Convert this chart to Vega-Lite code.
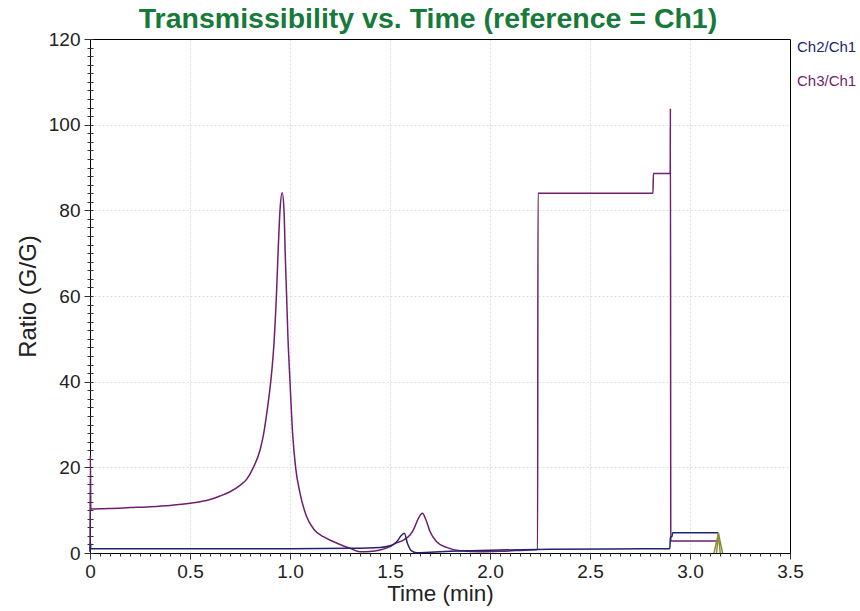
{
  "$schema": "https://vega.github.io/schema/vega-lite/v6.json",
  "autosize": {"type": "none"},
  "padding": {"left": 90, "top": 39, "right": 70, "bottom": 58},
  "width": 700,
  "height": 514,
  "background": "white",
  "config": {"font": "Liberation Sans", "view": {"stroke": null}},
  "title": {"text": "Transmissibility vs. Time (reference = Ch1)", "fontSize": 28.5, "fontWeight": "bold", "color": "#177a3a", "anchor": "middle", "offset": -3, "dx": -12},
  "datasets": {
    "main": [
      {"t": 0, "r": 0.5, "s": "Ch3/Ch1"},
      {"t": 0.002, "r": 22.8, "s": "Ch3/Ch1"},
      {"t": 0.004, "r": 10.3, "s": "Ch3/Ch1"},
      {"t": 0.1, "r": 10.4, "s": "Ch3/Ch1"},
      {"t": 0.2, "r": 10.6, "s": "Ch3/Ch1"},
      {"t": 0.3, "r": 10.8, "s": "Ch3/Ch1"},
      {"t": 0.4, "r": 11.1, "s": "Ch3/Ch1"},
      {"t": 0.5, "r": 11.6, "s": "Ch3/Ch1"},
      {"t": 0.6, "r": 12.5, "s": "Ch3/Ch1"},
      {"t": 0.65, "r": 13.3, "s": "Ch3/Ch1"},
      {"t": 0.7, "r": 14.3, "s": "Ch3/Ch1"},
      {"t": 0.75, "r": 15.8, "s": "Ch3/Ch1"},
      {"t": 0.783, "r": 17.2, "s": "Ch3/Ch1"},
      {"t": 0.817, "r": 20, "s": "Ch3/Ch1"},
      {"t": 0.85, "r": 24, "s": "Ch3/Ch1"},
      {"t": 0.867, "r": 27.5, "s": "Ch3/Ch1"},
      {"t": 0.885, "r": 33, "s": "Ch3/Ch1"},
      {"t": 0.9, "r": 38.5, "s": "Ch3/Ch1"},
      {"t": 0.91, "r": 43, "s": "Ch3/Ch1"},
      {"t": 0.92, "r": 49, "s": "Ch3/Ch1"},
      {"t": 0.932, "r": 60, "s": "Ch3/Ch1"},
      {"t": 0.942, "r": 72, "s": "Ch3/Ch1"},
      {"t": 0.95, "r": 80, "s": "Ch3/Ch1"},
      {"t": 0.961, "r": 84.1, "s": "Ch3/Ch1"},
      {"t": 0.97, "r": 80, "s": "Ch3/Ch1"},
      {"t": 0.976, "r": 70, "s": "Ch3/Ch1"},
      {"t": 0.983, "r": 60, "s": "Ch3/Ch1"},
      {"t": 0.99, "r": 50, "s": "Ch3/Ch1"},
      {"t": 1.0, "r": 40, "s": "Ch3/Ch1"},
      {"t": 1.013, "r": 28, "s": "Ch3/Ch1"},
      {"t": 1.028, "r": 20, "s": "Ch3/Ch1"},
      {"t": 1.05, "r": 14, "s": "Ch3/Ch1"},
      {"t": 1.083, "r": 8.5, "s": "Ch3/Ch1"},
      {"t": 1.12, "r": 5.5, "s": "Ch3/Ch1"},
      {"t": 1.167, "r": 3.8, "s": "Ch3/Ch1"},
      {"t": 1.21, "r": 2.8, "s": "Ch3/Ch1"},
      {"t": 1.25, "r": 2.0, "s": "Ch3/Ch1"},
      {"t": 1.3, "r": 1.1, "s": "Ch3/Ch1"},
      {"t": 1.35, "r": 0.3, "s": "Ch3/Ch1"},
      {"t": 1.4, "r": 0.35, "s": "Ch3/Ch1"},
      {"t": 1.45, "r": 0.7, "s": "Ch3/Ch1"},
      {"t": 1.5, "r": 1.5, "s": "Ch3/Ch1"},
      {"t": 1.525, "r": 2.2, "s": "Ch3/Ch1"},
      {"t": 1.567, "r": 3.0, "s": "Ch3/Ch1"},
      {"t": 1.6, "r": 4.2, "s": "Ch3/Ch1"},
      {"t": 1.617, "r": 5.4, "s": "Ch3/Ch1"},
      {"t": 1.642, "r": 8.1, "s": "Ch3/Ch1"},
      {"t": 1.662, "r": 9.3, "s": "Ch3/Ch1"},
      {"t": 1.68, "r": 7.7, "s": "Ch3/Ch1"},
      {"t": 1.7, "r": 5.0, "s": "Ch3/Ch1"},
      {"t": 1.733, "r": 2.6, "s": "Ch3/Ch1"},
      {"t": 1.783, "r": 1.3, "s": "Ch3/Ch1"},
      {"t": 1.85, "r": 0.5, "s": "Ch3/Ch1"},
      {"t": 1.95, "r": 0.3, "s": "Ch3/Ch1"},
      {"t": 2.05, "r": 0.4, "s": "Ch3/Ch1"},
      {"t": 2.15, "r": 0.6, "s": "Ch3/Ch1"},
      {"t": 2.238, "r": 0.8, "s": "Ch3/Ch1"},
      {"t": 2.24, "r": 84, "s": "Ch3/Ch1"},
      {"t": 2.815, "r": 84, "s": "Ch3/Ch1"},
      {"t": 2.817, "r": 88.6, "s": "Ch3/Ch1"},
      {"t": 2.899, "r": 88.6, "s": "Ch3/Ch1"},
      {"t": 2.901, "r": 89, "s": "Ch3/Ch1"},
      {"t": 2.902, "r": 103.8, "s": "Ch3/Ch1"},
      {"t": 2.904, "r": 2.8, "s": "Ch3/Ch1"},
      {"t": 3.137, "r": 2.8, "s": "Ch3/Ch1"},
      {"t": 0, "r": 0.2, "s": "Ch2/Ch1"},
      {"t": 0.002, "r": 2.5, "s": "Ch2/Ch1"},
      {"t": 0.004, "r": 1.0, "s": "Ch2/Ch1"},
      {"t": 0.5, "r": 1.0, "s": "Ch2/Ch1"},
      {"t": 1.0, "r": 1.0, "s": "Ch2/Ch1"},
      {"t": 1.3, "r": 1.1, "s": "Ch2/Ch1"},
      {"t": 1.45, "r": 1.3, "s": "Ch2/Ch1"},
      {"t": 1.5, "r": 1.7, "s": "Ch2/Ch1"},
      {"t": 1.517, "r": 2.0, "s": "Ch2/Ch1"},
      {"t": 1.54, "r": 3.0, "s": "Ch2/Ch1"},
      {"t": 1.555, "r": 4.0, "s": "Ch2/Ch1"},
      {"t": 1.572, "r": 4.6, "s": "Ch2/Ch1"},
      {"t": 1.587, "r": 2.3, "s": "Ch2/Ch1"},
      {"t": 1.608, "r": 0.5, "s": "Ch2/Ch1"},
      {"t": 1.633, "r": 0.05, "s": "Ch2/Ch1"},
      {"t": 1.7, "r": 0.2, "s": "Ch2/Ch1"},
      {"t": 1.8, "r": 0.4, "s": "Ch2/Ch1"},
      {"t": 1.9, "r": 0.55, "s": "Ch2/Ch1"},
      {"t": 2.05, "r": 0.7, "s": "Ch2/Ch1"},
      {"t": 2.3, "r": 0.85, "s": "Ch2/Ch1"},
      {"t": 2.6, "r": 0.95, "s": "Ch2/Ch1"},
      {"t": 2.899, "r": 1.0, "s": "Ch2/Ch1"},
      {"t": 2.902, "r": 3.8, "s": "Ch2/Ch1"},
      {"t": 2.91, "r": 3.8, "s": "Ch2/Ch1"},
      {"t": 2.913, "r": 4.7, "s": "Ch2/Ch1"},
      {"t": 3.142, "r": 4.7, "s": "Ch2/Ch1"}
    ],
    "olive": [
      {"t": 3.12, "r": 0, "s": "a"},
      {"t": 3.142, "r": 4.6, "s": "a"},
      {"t": 3.163, "r": 0, "s": "a"},
      {"t": 3.133, "r": 0, "s": "b"},
      {"t": 3.1421, "r": 4.6, "s": "b"},
      {"t": 3.151, "r": 0, "s": "b"}
    ]
  },
  "layer": [
    {
      "data": {"name": "main"},
      "mark": {"type": "line", "strokeWidth": 1.5, "interpolate": "monotone"},
      "encoding": {
        "x": {"field": "t", "type": "quantitative", "scale": {"domain": [0, 3.5], "nice": false, "zero": false},
          "axis": {"orient": "bottom", "values": [0, 0.5, 1, 1.5, 2, 2.5, 3, 3.5], "labelExpr": "datum.value == 0 ? '0' : format(datum.value, '.1f')", "title": "Time (min)", "titleFontSize": 22.5, "titleFontWeight": "normal", "titleColor": "#222", "labelFontSize": 19, "labelColor": "#222", "tickSize": 6, "tickColor": "#333", "domainColor": "#000", "grid": true, "gridDash": [2, 2], "gridColor": {"condition": {"test": "datum.value == 0 || datum.value == 3.5", "value": "transparent"}, "value": "#dcdcdc"}, "labelPadding": 3, "titlePadding": 1, "labelFlush": false}},
        "y": {"field": "r", "type": "quantitative", "scale": {"domain": [0, 120], "nice": false},
          "axis": {"orient": "left", "values": [0, 20, 40, 60, 80, 100, 120], "title": "Ratio (G/G)", "titleFontSize": 24, "titleFontWeight": "normal", "titleColor": "#222", "labelFontSize": 19, "labelColor": "#222", "tickSize": 6, "tickColor": "#333", "domainColor": "#000", "grid": true, "gridDash": [2, 2], "gridColor": {"condition": {"test": "datum.value == 0 || datum.value == 120", "value": "transparent"}, "value": "#dcdcdc"}, "labelPadding": 4, "titlePadding": 8, "labelFlush": false}},
        "color": {"field": "s", "type": "nominal", "scale": {"domain": ["Ch2/Ch1", "Ch3/Ch1"], "range": ["#23236e", "#6e1f6e"]},
          "legend": {"orient": "none", "legendX": 692, "legendY": 0, "title": null, "symbolSize": 0, "symbolOpacity": 0, "symbolStrokeWidth": 0, "labelFontSize": 15, "rowPadding": 18, "labelOffset": 0, "padding": 0,
            "encode": {"labels": {"update": {"fill": {"signal": "datum.value === 'Ch2/Ch1' ? '#23236e' : '#6e1f6e'"}}}}}}
      }
    },
    {
      "data": {"name": "olive"},
      "mark": {"type": "line", "color": "#8c8c3a", "strokeWidth": 1.5},
      "encoding": {
        "x": {"field": "t", "type": "quantitative", "scale": {"domain": [0, 3.5], "nice": false, "zero": false},
          "axis": {"orient": "bottom", "values": [0,0.05,0.1,0.15,0.2,0.25,0.3,0.35,0.4,0.45,0.5,0.55,0.6,0.65,0.7,0.75,0.8,0.85,0.9,0.95,1,1.05,1.1,1.15,1.2,1.25,1.3,1.35,1.4,1.45,1.5,1.55,1.6,1.65,1.7,1.75,1.8,1.85,1.9,1.95,2,2.05,2.1,2.15,2.2,2.25,2.3,2.35,2.4,2.45,2.5,2.55,2.6,2.65,2.7,2.75,2.8,2.85,2.9,2.95,3,3.05,3.1,3.15,3.2,3.25,3.3,3.35,3.4,3.45,3.5], "labels": false, "domain": false, "grid": false, "tickSize": 3, "tickColor": "#333", "title": null}},
        "y": {"field": "r", "type": "quantitative", "scale": {"domain": [0, 120], "nice": false},
          "axis": {"orient": "left", "values": [0,2,4,6,8,10,12,14,16,18,20,22,24,26,28,30,32,34,36,38,40,42,44,46,48,50,52,54,56,58,60,62,64,66,68,70,72,74,76,78,80,82,84,86,88,90,92,94,96,98,100,102,104,106,108,110,112,114,116,118,120], "labels": false, "domain": false, "grid": false, "tickSize": 6, "offset": -3, "tickColor": "#333", "title": null}},
        "detail": {"field": "s", "type": "nominal"}
      }
    },
    {
      "data": {"name": "olive"},
      "mark": {"type": "line", "opacity": 0},
      "encoding": {
        "x": {"field": "t", "type": "quantitative", "scale": {"domain": [0, 3.5], "nice": false, "zero": false},
          "axis": {"orient": "top", "values": [], "labels": false, "ticks": false, "grid": false, "domain": true, "domainColor": "#000", "title": null}},
        "y": {"field": "r", "type": "quantitative", "scale": {"domain": [0, 120], "nice": false},
          "axis": {"orient": "right", "values": [], "labels": false, "ticks": false, "grid": false, "domain": true, "domainColor": "#000", "title": null}},
        "detail": {"field": "s", "type": "nominal"}
      }
    }
  ],
  "resolve": {"axis": {"x": "independent", "y": "independent"}}
}
